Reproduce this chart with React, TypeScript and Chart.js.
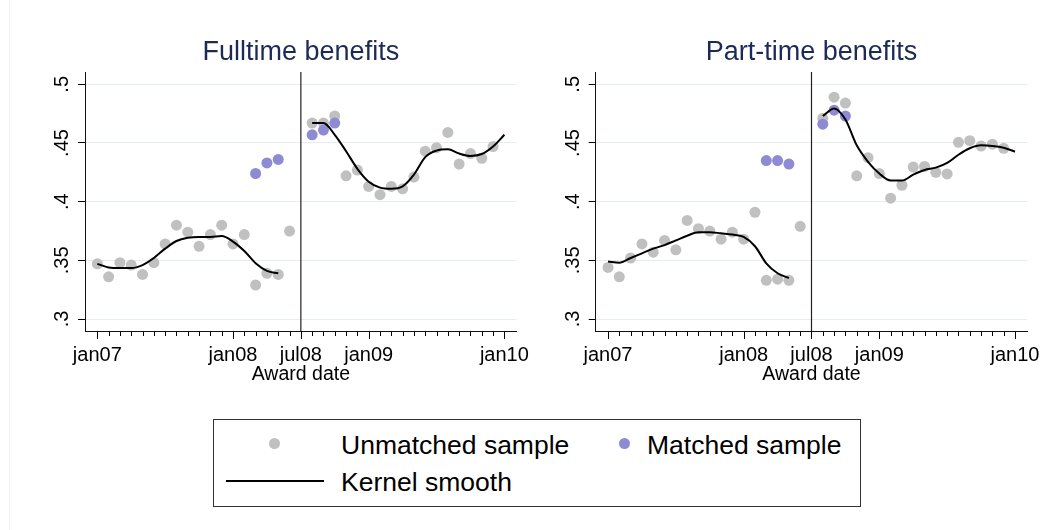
import React, { useEffect, useRef } from "react";
import { Chart, registerables } from "chart.js";

Chart.register(...registerables);

const FONT = "'Liberation Sans', Arial, Helvetica, sans-serif";

// ---- axes / ticks ----
const tickMonths = [0, 1, 2, 3, 4, 5, 6, 7, 8, 9, 10, 11, 12, 13, 14, 15, 16, 17, 18, 19, 20, 21, 22, 23, 24, 25, 26, 27, 28, 29, 30, 31, 32, 33, 34, 35, 36];
const majorTickMonths = [0, 12, 18, 24, 36];
const majorTickLabels = ["jan07", "jan08", "jul08", "jan09", "jan10"];
const yTickValues = [0.3, 0.35, 0.4, 0.45, 0.5];
const yTickLabels = [".3", ".35", ".4", ".45", ".5"];
const cutoffMonth = 18;
const xTitle = "Award date";

// ---- months for each series ----
const preMonths = [0, 1, 2, 3, 4, 5, 6, 7, 8, 9, 10, 11, 12, 13, 14, 15, 16, 17];
const postMonths = [19, 20, 21, 22, 23, 24, 25, 26, 27, 28, 29, 30, 31, 32, 33, 34, 35];
const matchedPreMonths = [14, 15, 16];
const matchedPostMonths = [19, 20, 21];
const smoothPreMonths = [0, 1, 2, 3, 4, 5, 6, 7, 8, 9, 10, 11, 12, 13, 14, 15, 16];
const smoothPostMonths = [19, 20, 21, 22, 23, 24, 25, 26, 27, 28, 29, 30, 31, 32, 33, 34, 35, 36];

// ---- Fulltime benefits ----
const ftUnmatchedPre = [0.347, 0.336, 0.348, 0.346, 0.338, 0.348, 0.364, 0.380, 0.374, 0.362, 0.372, 0.380, 0.364, 0.372, 0.329, 0.339, 0.338, 0.375];
const ftUnmatchedPost = [0.467, 0.467, 0.473, 0.422, 0.427, 0.413, 0.406, 0.413, 0.411, 0.421, 0.443, 0.446, 0.459, 0.432, 0.441, 0.437, 0.447];
const ftMatchedPre = [0.424, 0.433, 0.436];
const ftMatchedPost = [0.457, 0.461, 0.467];
const ftSmoothPre = [0.347, 0.344, 0.3435, 0.3435, 0.346, 0.352, 0.360, 0.3665, 0.3693, 0.370, 0.370, 0.3707, 0.366, 0.358, 0.3475, 0.341, 0.339];
const ftSmoothPost = [0.467, 0.467, 0.457, 0.443, 0.428, 0.417, 0.412, 0.411, 0.413, 0.423, 0.438, 0.4435, 0.4446, 0.441, 0.439, 0.4406, 0.447, 0.457];

// ---- Part-time benefits ----
const ptUnmatchedPre = [0.344, 0.336, 0.352, 0.364, 0.357, 0.367, 0.359, 0.384, 0.377, 0.375, 0.368, 0.374, 0.368, 0.391, 0.333, 0.334, 0.333, 0.379];
const ptUnmatchedPost = [0.471, 0.489, 0.484, 0.422, 0.4375, 0.424, 0.403, 0.414, 0.4295, 0.430, 0.425, 0.4236, 0.4506, 0.452, 0.4474, 0.449, 0.4455];
const ptMatchedPre = [0.435, 0.435, 0.432];
const ptMatchedPost = [0.466, 0.478, 0.473];
const ptSmoothPre = [0.349, 0.348, 0.352, 0.356, 0.360, 0.363, 0.367, 0.371, 0.374, 0.374, 0.373, 0.372, 0.370, 0.362, 0.3475, 0.339, 0.335];
const ptSmoothPost = [0.473, 0.4795, 0.470, 0.448, 0.434, 0.424, 0.418, 0.418, 0.423, 0.427, 0.429, 0.433, 0.440, 0.4455, 0.448, 0.4475, 0.446, 0.4426];

const legendLabels = ["Unmatched sample", "Matched sample", "Kernel smooth"];

const GRAY = "#c0c0c0";
const PURPLE = "#8e8bd4";
const TITLE_COLOR = "#1c2b55";

const pts = (xs: number[], ys: number[]) => xs.map((x, i) => ({ x, y: ys[i] }));

type PanelProps = {
  title: string;
  left: number;
  width: number;
  yAxisX: number; // relative to canvas
  plotRight: number; // relative to canvas
  unmatchedPre: number[];
  unmatchedPost: number[];
  matchedPre: number[];
  matchedPost: number[];
  smoothPre: number[];
  smoothPost: number[];
};

const CANVAS_H = 400;
const PLOT_BOTTOM = 331;

function Panel(p: PanelProps) {
  const ref = useRef<HTMLCanvasElement>(null);
  useEffect(() => {
    const canvas = ref.current!;
    const decor = {
      id: "stataDecor",
      beforeDatasetsDraw(chart: any) {
        const { ctx, chartArea, scales } = chart;
        const x = scales.x.getPixelForValue(cutoffMonth);
        ctx.save();
        ctx.strokeStyle = "#222";
        ctx.lineWidth = 1.2;
        ctx.beginPath();
        ctx.moveTo(x, chartArea.top);
        ctx.lineTo(x, chartArea.bottom);
        ctx.stroke();
        ctx.restore();
      },
      afterDraw(chart: any) {
        const { ctx, chartArea, scales } = chart;
        ctx.save();
        ctx.strokeStyle = "#000";
        ctx.lineWidth = 1;
        tickMonths.forEach((m) => {
          const px = Math.round(scales.x.getPixelForValue(m)) + 0.5;
          const len = majorTickMonths.includes(m) ? 8 : 5;
          ctx.beginPath();
          ctx.moveTo(px, chartArea.bottom);
          ctx.lineTo(px, chartArea.bottom + len);
          ctx.stroke();
        });
        ctx.fillStyle = "#000";
        ctx.font = `20px ${FONT}`;
        ctx.textAlign = "center";
        ctx.textBaseline = "alphabetic";
        yTickValues.forEach((v, i) => {
          const py = scales.y.getPixelForValue(v);
          ctx.save();
          ctx.translate(chartArea.left - 17, py);
          ctx.rotate(-Math.PI / 2);
          ctx.fillText(yTickLabels[i], 0, 0);
          ctx.restore();
        });
        ctx.restore();
      },
    };

    const pointDs = (data: any, color: string) => ({
      data,
      showLine: false,
      pointRadius: 5.5,
      pointHoverRadius: 5.5,
      pointBorderWidth: 0,
      pointBackgroundColor: color,
      borderColor: color,
      backgroundColor: color,
    });
    const lineDs = (data: any) => ({
      data,
      showLine: true,
      borderColor: "#000",
      borderWidth: 2,
      pointRadius: 0,
      cubicInterpolationMode: "monotone",
      fill: false,
    });

    const chart = new Chart(canvas, {
      type: "line",
      data: {
        datasets: [
          lineDs(pts(smoothPreMonths, p.smoothPre)),
          lineDs(pts(smoothPostMonths, p.smoothPost)),
          pointDs(pts(matchedPreMonths, p.matchedPre), PURPLE),
          pointDs(pts(matchedPostMonths, p.matchedPost), PURPLE),
          pointDs(pts(preMonths, p.unmatchedPre), GRAY),
          pointDs(pts(postMonths, p.unmatchedPost), GRAY),
        ] as any,
      },
      options: {
        responsive: false,
        animation: false,
        events: [],
        layout: {
          padding: { left: 0, right: p.width - p.plotRight, top: 0, bottom: 0 },
        },
        plugins: {
          legend: { display: false },
          tooltip: { enabled: false },
          title: {
            display: true,
            text: p.title,
            fullSize: false,
            color: TITLE_COLOR,
            font: { family: FONT, size: 27, weight: "normal" as any },
            padding: { top: 36.5, bottom: 3.1 },
          },
        },
        scales: {
          x: {
            type: "linear",
            min: -1.09,
            max: 37.09,
            afterBuildTicks: (s: any) => {
              s.ticks = tickMonths.map((v) => ({ value: v }));
            },
            afterFit: (s: any) => {
              s.height = CANVAS_H - PLOT_BOTTOM;
            },
            ticks: {
              autoSkip: false,
              maxRotation: 0,
              minRotation: 0,
              padding: 4.5,
              color: "#000",
              font: { family: FONT, size: 20 },
              callback: (v: any) => {
                const i = majorTickMonths.indexOf(Number(v));
                return i >= 0 ? majorTickLabels[i] : "";
              },
            },
            grid: {
              display: true,
              drawOnChartArea: false,
              drawTicks: true,
              tickLength: 8,
              tickColor: "rgba(0,0,0,0)",
            },
            border: { display: true, color: "#111", width: 1 },
            title: {
              display: true,
              text: xTitle,
              color: "#000",
              font: { family: FONT, size: 19.5 },
              padding: { top: 0, bottom: 14.1 },
            },
          },
          y: {
            type: "linear",
            min: 0.2898,
            max: 0.5105,
            afterBuildTicks: (s: any) => {
              s.ticks = yTickValues.map((v) => ({ value: v }));
            },
            afterFit: (s: any) => {
              s.width = p.yAxisX;
            },
            ticks: { display: false },
            grid: {
              color: "#e4eef0",
              lineWidth: 1,
              drawTicks: true,
              tickLength: 7,
              tickColor: "#000",
            },
            border: { display: true, color: "#111", width: 1 },
          },
        },
      } as any,
      plugins: [decor],
    });
    return () => chart.destroy();
  }, []);
  return (
    <canvas
      ref={ref}
      width={p.width}
      height={CANVAS_H}
      style={{ position: "absolute", left: p.left, top: 0, width: p.width, height: CANVAS_H }}
    />
  );
}

function Legend() {
  const text: React.CSSProperties = {
    position: "absolute",
    fontFamily: FONT,
    fontSize: 26.5,
    lineHeight: "26.5px",
    color: "#000",
    whiteSpace: "nowrap",
  };
  const dot = (color: string, cx: number, cy: number): React.CSSProperties => ({
    position: "absolute",
    left: cx - 5.5,
    top: cy - 5.5,
    width: 11,
    height: 11,
    borderRadius: "50%",
    background: color,
  });
  return (
    <>
      <div
        style={{
          position: "absolute",
          left: 213,
          top: 419,
          width: 648,
          height: 88,
          border: "1px solid #333",
          boxSizing: "border-box",
        }}
      />
      <div style={dot(GRAY, 274.5, 443.3)} />
      <div style={{ ...text, left: 341, top: 431.9 }}>{legendLabels[0]}</div>
      <div style={dot(PURPLE, 624, 443.3)} />
      <div style={{ ...text, left: 647, top: 431.9 }}>{legendLabels[1]}</div>
      <div style={{ position: "absolute", left: 225.5, top: 479.7, width: 98.5, height: 2.6, background: "#000" }} />
      <div style={{ ...text, left: 341, top: 468.6 }}>{legendLabels[2]}</div>
    </>
  );
}

export default function App() {
  return (
    <div
      style={{
        position: "fixed",
        left: 0,
        top: 0,
        width: 1054,
        height: 530,
        background: "#fff",
        overflow: "hidden",
      }}
    >
      <div style={{ position: "absolute", left: 9, top: 0, width: 1, height: 530, background: "#f3f3f3" }} />
      <Panel
        title="Fulltime benefits"
        left={0}
        width={540}
        yAxisX={85}
        plotRight={516.7}
        unmatchedPre={ftUnmatchedPre}
        unmatchedPost={ftUnmatchedPost}
        matchedPre={ftMatchedPre}
        matchedPost={ftMatchedPost}
        smoothPre={ftSmoothPre}
        smoothPost={ftSmoothPost}
      />
      <Panel
        title="Part-time benefits"
        left={520}
        width={534}
        yAxisX={75.7}
        plotRight={507.3}
        unmatchedPre={ptUnmatchedPre}
        unmatchedPost={ptUnmatchedPost}
        matchedPre={ptMatchedPre}
        matchedPost={ptMatchedPost}
        smoothPre={ptSmoothPre}
        smoothPost={ptSmoothPost}
      />
      <Legend />
    </div>
  );
}
